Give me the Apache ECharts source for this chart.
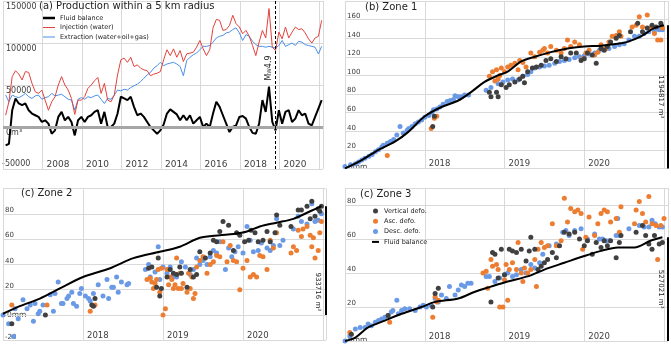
<!DOCTYPE html>
<html>
<head>
<meta charset="utf-8">
<script src="https://cdn.jsdelivr.net/npm/echarts@6/dist/echarts.min.js"></script>
<style>
  html, body { margin: 0; padding: 0; background: #fff; }
  #chart { width: 671px; height: 345px; }
</style>
</head>
<body>
<div id="chart"></div>
<script>
// panel (a): bimonthly values, m3, starting early 2006
const prodStart = 2006.133;
const prodStep = 1 / 6;
const extraction = [
  38000, 30000, 38000, 36000, 35000, 37000, 40000, 36000, 34000, 37000,
  38000, 33000, 35000, 36000, 40000, 37000, 38000, 39000, 36000, 33000,
  32000, 20000, 33000, 35000, 33000, 36000, 35000, 37000, 38000, 33000,
  28000, 34000, 33000, 38000, 44000, 43000, 45000, 44000, 47000, 49000,
  51000, 54000, 58000, 62000, 65000, 70000, 73000, 77000, 73000, 75000,
  76000, 77000, 75000, 72000, 61000, 79000, 83000, 86000, 88000, 92000,
  96000, 96000, 97000, 101000, 106000, 108000, 109000, 112000, 113000, 116000,
  118000, 112000, 103000, 110000, 108000, 102000, 98000, 96000, 96000, 95000,
  96000, 95000, 94000, 97000, 103000, 96000, 98000, 100000, 97000, 102000,
  101000, 98000, 97000, 96000, 95000, 87000, 96000
];
const injection = [
  14000, 30000, 60000, 67000, 63000, 56000, 66000, 65000, 52000, 42000,
  40000, 44000, 32000, 20000, 30000, 36000, 50000, 60000, 50000, 44000,
  34000, 15000, 32000, 32000, 36000, 46000, 50000, 55000, 59000, 40000,
  52000, 32000, 30000, 38000, 62000, 80000, 82000, 77000, 83000, 72000,
  74000, 70000, 68000, 67000, 61000, 63000, 64000, 66000, 80000, 92000,
  85000, 93000, 83000, 91000, 78000, 87000, 88000, 89000, 95000, 103000,
  93000, 85000, 92000, 118000, 128000, 127000, 115000, 116000, 121000, 133000,
  123000, 119000, 111000, 115000, 108000, 97000, 85000, 101000, 115000, 106000,
  141000, 95000, 91000, 113000, 105000, 119000, 106000, 113000, 119000, 116000,
  117000, 112000, 105000, 100000, 106000, 108000, 127000
];
const fluidBalance = [
  -22000, -20000, 20000, 34000, 28000, 26000, 28000, 20000, 16000, 14000,
  12000, 6000, 8000, 4000, -8000, -4000, 12000, 18000, 8000, 12000,
  6000, -10000, 8000, 12000, 6000, 12000, 14000, 18000, 20000, 4000,
  18000, 0, 0, 4000, 16000, 36000, 34000, 32000, 36000, 24000,
  14000, 16000, 12000, 6000, 0, -4000, -8000, -4000, 3000, 16000,
  21000, 18000, 15000, 8000, 14000, 8000, 14000, 4000, 8000, 12000,
  0, 4000, 0, 16000, 30000, 24000, 14000, 4000, -6000, 0,
  2000, 12000, 13000, 10000, 0, -7000, -8000, 4000, 32000, 18000,
  48000, 6000, -4000, 20000, 4000, 18000, 20000, 6000, 10000, 20000,
  14000, 16000, 4000, 2000, 12000, 22000, 32000
];
const quakeYear = 2019.77;

// zones: [decimal year, mm]
const zone1Desc = [
  [2017.00,2],[2017.07,4],[2017.13,5],[2017.17,7],[2017.21,9],[2017.25,11],[2017.30,13],[2017.34,15],
  [2017.38,18],[2017.42,20],[2017.46,23],[2017.48,25],[2017.53,27],[2017.57,29],[2017.61,31],[2017.65,36],
  [2017.69,45],[2017.73,38],[2017.78,41],[2017.80,43],[2017.84,45],[2017.88,48],[2017.92,50],[2017.96,52],
  [2018.00,55],[2018.05,57],[2018.09,60],[2018.11,63],[2018.15,64],[2018.19,66],[2018.23,69],[2018.28,72],
  [2018.32,73],[2018.36,74],[2018.38,78],[2018.42,77],[2018.46,77],[2018.50,79],[2018.55,79],
  [2018.77,84],[2018.83,87],[2018.92,91],[2018.98,93],[2019.04,95],[2019.10,96],[2019.17,95],[2019.23,99],
  [2019.29,101],[2019.33,104],[2019.38,108],[2019.44,109],[2019.50,110],[2019.56,111],[2019.63,113],
  [2019.69,115],[2019.75,116],[2019.81,117],[2019.88,119],[2019.94,120],[2020.00,121],[2020.06,123],
  [2020.13,124],[2020.19,127],[2020.25,128],[2020.31,129],[2020.38,131],[2020.44,133],[2020.50,134],
  [2020.56,138],[2020.63,142],[2020.69,142],[2020.75,145],[2020.81,147],[2020.88,148],[2020.94,149],[2020.98,149]
];
const zone1Asc = [
  [2017.53,14],[2018.08,43],[2018.12,54],[2018.15,56],
  [2018.81,99],[2018.85,104],[2018.88,94],[2018.90,106],[2018.92,96],[2018.94,100],[2018.96,108],[2019.00,104],
  [2019.04,109],[2019.08,111],[2019.13,113],[2019.17,106],[2019.19,116],[2019.23,114],[2019.27,109],
  [2019.33,124],[2019.38,120],[2019.44,125],[2019.48,127],[2019.50,129],[2019.54,124],[2019.58,131],
  [2019.65,127],[2019.71,124],[2019.75,129],[2019.79,138],[2019.83,131],[2019.88,136],[2019.94,133],
  [2019.98,118],[2020.02,124],[2020.06,127],[2020.13,122],[2020.17,125],[2020.21,133],[2020.27,129],
  [2020.31,136],[2020.35,142],[2020.40,143],[2020.44,147],[2020.46,142],[2020.60,152],[2020.65,154],
  [2020.69,163],[2020.73,152],[2020.79,165],[2020.83,151],[2020.88,145],[2020.92,138],[2020.96,138],[2020.98,151]
];
const zone1Vert = [
  [2018.10,45],[2018.12,56],
  [2018.81,82],[2018.83,77],[2018.90,82],[2018.92,77],[2018.96,90],[2019.02,87],[2019.06,90],[2019.13,93],
  [2019.19,96],[2019.23,99],[2019.25,92],[2019.29,104],[2019.35,108],[2019.40,109],[2019.46,111],[2019.52,116],
  [2019.58,118],[2019.65,115],[2019.71,120],[2019.77,118],[2019.83,124],[2019.90,124],[2019.96,116],[2020.00,118],
  [2020.04,124],[2020.10,122],[2020.15,113],[2020.21,129],[2020.25,127],[2020.29,131],[2020.33,136],[2020.40,140],
  [2020.44,143],[2020.58,147],[2020.67,156],[2020.73,147],[2020.79,151],[2020.85,154],[2020.90,152],[2020.96,156]
];
const zone1Fluid = [
  [2017.00,0],[2017.21,9],[2017.42,20],[2017.63,29],[2017.79,39],[2018.00,56],[2018.21,66],[2018.42,73],
  [2018.58,82],[2018.75,93],[2018.92,100],[2019.04,104],[2019.21,115],[2019.38,120],[2019.58,125],[2019.79,129],
  [2020.00,131],[2020.21,132],[2020.42,134],[2020.54,136],[2020.71,142],[2020.88,151],[2021.00,154]
];

const zone2Desc = [
  [2017.00,0],[2017.07,-7],[2017.13,-17],[2017.15,5],[2017.19,-3],[2017.25,12],[2017.30,5],[2017.34,8],
  [2017.38,-5],[2017.40,9],[2017.44,1],[2017.46,3],[2017.50,8],[2017.59,16],[2017.63,3],[2017.65,17],
  [2017.69,26],[2017.73,9],[2017.75,9],[2017.80,13],[2017.82,15],[2017.86,18],[2017.88,9],[2017.92,7],
  [2017.96,17],[2017.98,21],[2018.03,15],[2018.07,13],[2018.09,11],[2018.13,17],[2018.19,24],[2018.25,15],
  [2018.30,28],[2018.32,13],[2018.36,22],[2018.38,22],[2018.42,30],[2018.44,18],[2018.48,26],[2018.55,24],[2018.57,25],
  [2018.78,36],[2018.82,40],[2018.84,30],[2018.90,34],[2018.94,54],[2018.96,28],[2019.00,38],[2019.05,33],
  [2019.09,38],[2019.13,30],[2019.17,30],[2019.23,42],[2019.28,38],[2019.34,32],[2019.38,36],[2019.42,45],
  [2019.46,40],[2019.50,43],[2019.55,40],[2019.59,46],[2019.63,51],[2019.67,49],[2019.71,58],[2019.78,36],
  [2019.82,53],[2019.86,46],[2019.90,50],[2019.94,54],[2020.00,49],[2020.05,70],[2020.09,59],[2020.13,50],
  [2020.19,51],[2020.23,57],[2020.30,53],[2020.34,51],[2020.38,55],[2020.42,76],[2020.46,55],[2020.50,59],
  [2020.63,68],[2020.69,78],[2020.73,74],[2020.80,72],[2020.86,88],[2020.90,74],[2020.94,75],[2020.98,80]
];
const zone2Asc = [
  [2017.11,8],[2017.55,8],[2018.09,3],[2018.15,8],
  [2018.80,28],[2018.84,29],[2018.86,26],[2018.88,21],[2018.90,25],[2018.92,28],[2018.94,36],[2018.96,18],
  [2018.98,37],[2019.00,0],[2019.03,5],[2019.05,36],[2019.07,24],[2019.09,30],[2019.11,28],[2019.13,21],
  [2019.15,24],[2019.17,45],[2019.19,21],[2019.21,33],[2019.23,21],[2019.25,25],[2019.30,18],[2019.32,33],
  [2019.34,21],[2019.36,30],[2019.38,13],[2019.40,17],[2019.42,38],[2019.46,43],[2019.50,46],[2019.55,33],
  [2019.59,40],[2019.63,42],[2019.67,47],[2019.71,46],[2019.75,58],[2019.80,42],[2019.84,55],[2019.88,43],
  [2019.92,42],[2019.96,20],[2020.00,37],[2020.05,43],[2020.09,30],[2020.13,32],[2020.17,30],[2020.21,47],
  [2020.25,46],[2020.30,36],[2020.34,59],[2020.38,53],[2020.42,65],[2020.60,49],[2020.63,54],[2020.67,51],
  [2020.69,67],[2020.73,62],[2020.75,68],[2020.80,70],[2020.84,63],[2020.86,54],[2020.88,61],[2020.90,45],
  [2020.94,51],[2020.96,65],[2020.98,74]
];
const zone2Vert = [
  [2017.11,-7],[2017.53,0],[2018.11,8],[2018.13,7],[2018.15,13],
  [2018.82,37],[2018.86,38],[2018.92,22],[2018.94,45],[2018.96,15],[2018.98,21],[2019.05,30],[2019.09,36],
  [2019.13,33],[2019.17,32],[2019.21,38],[2019.23,33],[2019.30,22],[2019.34,36],[2019.38,30],[2019.42,32],
  [2019.46,50],[2019.53,45],[2019.59,49],[2019.63,59],[2019.67,58],[2019.71,66],[2019.75,74],[2019.82,71],
  [2019.88,51],[2019.92,65],[2019.96,63],[2020.02,58],[2020.07,59],[2020.10,67],[2020.15,65],[2020.19,58],
  [2020.25,59],[2020.30,66],[2020.34,58],[2020.40,65],[2020.42,79],[2020.46,71],[2020.60,70],[2020.69,83],
  [2020.73,83],[2020.80,86],[2020.84,76],[2020.86,90],[2020.90,78],[2020.94,84],[2020.96,82],[2020.98,86]
];
const zone2Fluid = [
  [2017.00,1],[2017.21,7],[2017.46,13],[2017.71,21],[2018.00,30],[2018.34,37],[2018.63,45],[2018.96,50],
  [2019.21,54],[2019.46,61],[2019.71,63],[2019.88,64],[2020.05,66],[2020.21,70],[2020.42,73],[2020.63,76],
  [2020.84,82],[2020.98,86]
];

const zone3Desc = [
  [2017.00,0],[2017.06,3],[2017.13,7],[2017.19,8],[2017.25,8],[2017.29,10],[2017.33,9],[2017.38,11],
  [2017.42,12],[2017.46,13],[2017.50,14],[2017.54,15],[2017.58,17],[2017.60,18],[2017.65,24],[2017.67,16],
  [2017.71,18],[2017.75,19],[2017.81,19],[2017.88,18],[2017.94,20],[2017.98,21],[2018.02,20],[2018.08,21],
  [2018.13,25],[2018.17,23],[2018.21,27],[2018.27,25],[2018.31,32],[2018.38,27],[2018.42,30],[2018.46,33],
  [2018.50,32],[2018.54,34],[2018.58,34],
  [2018.77,38],[2018.81,38],[2018.88,35],[2018.94,37],[2019.00,39],[2019.04,40],[2019.10,38],[2019.15,39],
  [2019.21,42],[2019.27,40],[2019.33,45],[2019.38,43],[2019.44,46],[2019.48,51],[2019.56,56],[2019.65,57],
  [2019.73,64],[2019.77,65],[2019.81,62],[2019.88,65],[2019.96,66],[2020.04,60],[2020.13,63],[2020.19,60],
  [2020.23,60],[2020.27,59],[2020.31,59],[2020.40,62],[2020.42,72],[2020.44,62],[2020.56,66],[2020.69,68],
  [2020.75,67],[2020.81,67],[2020.85,71],[2020.89,69],[2020.94,67],[2020.98,67]
];
const zone3Asc = [
  [2017.06,5],[2017.56,11],[2018.10,14],[2018.13,26],[2018.15,23],[2018.17,24],
  [2018.73,40],[2018.77,41],[2018.79,31],[2018.83,48],[2018.85,44],[2018.90,45],[2018.92,42],[2018.94,20],
  [2018.98,20],[2019.00,36],[2019.02,45],[2019.04,24],[2019.06,42],[2019.10,46],[2019.15,42],[2019.17,58],
  [2019.21,40],[2019.23,35],[2019.25,43],[2019.29,40],[2019.33,42],[2019.38,48],[2019.40,32],[2019.42,54],
  [2019.46,58],[2019.50,55],[2019.54,56],[2019.60,69],[2019.65,56],[2019.71,59],[2019.75,84],[2019.79,70],
  [2019.83,78],[2019.88,76],[2019.92,77],[2019.96,75],[2019.98,54],[2020.02,61],[2020.06,73],[2020.13,62],
  [2020.17,69],[2020.21,75],[2020.25,77],[2020.29,76],[2020.33,70],[2020.40,72],[2020.44,64],[2020.46,79],
  [2020.63,69],[2020.65,77],[2020.69,82],[2020.73,75],[2020.77,70],[2020.81,85],[2020.85,69],[2020.90,68],
  [2020.92,48],[2020.96,68],[2021.00,72]
];
const zone3Vert = [
  [2017.08,4],[2017.54,15],[2018.10,20],[2018.13,28],[2018.17,31],
  [2018.83,23],[2018.85,52],[2018.88,51],[2018.92,37],[2018.96,54],[2019.00,39],[2019.06,54],[2019.10,53],
  [2019.15,52],[2019.21,54],[2019.27,47],[2019.31,53],[2019.33,61],[2019.38,54],[2019.42,42],[2019.46,44],
  [2019.50,46],[2019.54,48],[2019.60,52],[2019.65,49],[2019.69,56],[2019.75,64],[2019.81,63],[2019.88,64],
  [2019.94,60],[2020.00,56],[2020.04,59],[2020.10,51],[2020.15,58],[2020.21,55],[2020.25,59],[2020.29,56],
  [2020.33,59],[2020.40,49],[2020.44,58],[2020.46,62],[2020.65,64],[2020.73,68],[2020.77,62],[2020.81,57],
  [2020.85,54],[2020.88,62],[2020.94,57],[2020.98,58]
];
const zone3Fluid = [
  [2017.00,0],[2017.13,2],[2017.29,8],[2017.50,12],[2017.71,16],[2017.96,20],[2018.13,23],[2018.42,25],
  [2018.63,29],[2018.83,32],[2019.04,35],[2019.29,38],[2019.50,42],[2019.75,46],[2020.00,50],[2020.21,53],
  [2020.42,55],[2020.63,55],[2020.83,59],[2020.98,61]
];
const zoneVolumes = ['1194817', '933716', '527021'];

const GRID_COLOR = '#d9d9d9';
const TEXT_COLOR = '#404040';
const DOT_GRAY = '#404040';
const DOT_ORANGE = '#ED7D31';
const DOT_BLUE = '#6A9AE6';
const RED = '#E2423B';
const BLUE = '#4A8FE7';

// flat bar icons so line legends show no marker
const thickLineIcon = 'path://M0,0 L12,0 L12,2.5 L0,2.5 Z';
const thinLineIcon = 'path://M0,0 L12,0 L12,1 L0,1 Z';
const shortLineIcon = 'path://M0,0 L7,0 L7,2 L0,2 Z';

const toPairs = vals => vals.map((v, i) => [prodStart + i * prodStep, v]);

const splitLine = { show: true, lineStyle: { color: GRID_COLOR, width: 1 } };

// x axis for a zone panel, years 2017-2021
const zoneXAxis = (gridIndex, max) => ({
  type: 'value', gridIndex, min: 2017, max, interval: 1,
  axisLine: { show: false }, axisTick: { show: false }, splitLine,
  axisLabel: {
    inside: true, margin: 0, align: 'left', padding: [0, 0, 0, 4],
    fontSize: 8.5, color: TEXT_COLOR,
    formatter: v => (v > 2017 && v < 2021 && Number.isInteger(v)) ? String(v) : ''
  }
});

const zoneYAxis = (gridIndex, min, max, top) => ({
  type: 'value', gridIndex, min, max, interval: 20,
  axisLine: { show: false }, axisTick: { show: false }, splitLine,
  axisLabel: {
    inside: true, margin: 2, verticalAlign: 'bottom', fontSize: 7, color: TEXT_COLOR,
    formatter: v => (v === 0 || v > top) ? '' : String(v)
  }
});

// scatter + fluid line + volume bar for one zone
function zoneSeries(idx, desc, asc, vert, fluid, barX, volume, labelPos) {
  const dot = (name, data, color) => ({
    name, type: 'scatter', xAxisIndex: idx, yAxisIndex: idx, data,
    symbolSize: 5, itemStyle: { color, opacity: 1 }, z: 3
  });
  const last = fluid[fluid.length - 1][1];
  return [
    dot('Desc. defo.', desc, DOT_BLUE),
    dot('Asc. defo.', asc, DOT_ORANGE),
    dot('Vertical defo.', vert, DOT_GRAY),
    {
      name: 'Fluid balance', type: 'line', xAxisIndex: idx, yAxisIndex: idx,
      data: fluid, symbol: 'none', smooth: 0.3, z: 4,
      itemStyle: { color: '#000' },
      lineStyle: { color: '#000', width: 2 },
      markLine: {
        silent: true, symbol: ['none', 'none'],
        lineStyle: { color: '#000', width: 2, type: 'solid' },
        label: {
          show: true, position: labelPos, distance: 4,
          formatter: volume + ' m³', fontSize: 7, color: '#222'
        },
        data: [[{ coord: [barX, last] }, { coord: [barX, 0] }]]
      }
    }
  ];
}

const chart = echarts.init(document.getElementById('chart'));

const titleStyle = { fontSize: 10, fontWeight: 'normal', color: '#222' };

const option = {
  animation: false,
  textStyle: { fontFamily: 'DejaVu Sans' },
  title: [
    { text: '(a) Production within a 5 km radius', left: 39, top: 1, padding: 0, textStyle: titleStyle },
    { text: '(b) Zone 1', left: 365, top: 2, padding: 0, textStyle: titleStyle },
    { text: '(c) Zone 2', left: 21, top: 188, padding: 0, textStyle: titleStyle },
    { text: '(c) Zone 3', left: 360, top: 189, padding: 0, textStyle: titleStyle }
  ],
  legend: [
    {
      data: [
        { name: 'Fluid balance', icon: thickLineIcon },
        { name: 'Injection (water)', icon: thinLineIcon },
        { name: 'Extraction (water+oil+gas)', icon: thinLineIcon }
      ],
      orient: 'vertical', left: 43, top: 14, padding: 0, itemGap: 1.5,
      itemWidth: 12, itemHeight: 8, selectedMode: false,
      textStyle: { fontSize: 6.5, lineHeight: 8, color: '#222' }
    },
    {
      data: [
        { name: 'Vertical defo.', icon: 'circle' },
        { name: 'Asc. defo.', icon: 'circle' },
        { name: 'Desc. defo.', icon: 'circle' },
        { name: 'Fluid balance', icon: shortLineIcon }
      ],
      orient: 'vertical', left: 372, top: 207, padding: 0, itemGap: 2.3,
      itemWidth: 7, itemHeight: 5, selectedMode: false,
      textStyle: { fontSize: 6.5, lineHeight: 8, color: '#222' }
    }
  ],
  grid: [
    { left: -1, top: 1, width: 324, height: 168 },
    { left: 345, top: 1, width: 324, height: 167.4 },
    { left: 3, top: 188.5, width: 322.8, height: 151.8 },
    { left: 345, top: 188, width: 324, height: 153 }
  ],
  xAxis: [
    {
      type: 'value', gridIndex: 0, min: 2006, max: 2022.2, interval: 2,
      axisLine: { show: false }, axisTick: { show: false }, splitLine,
      axisLabel: {
        inside: true, margin: 0, align: 'left', padding: [0, 0, 0, 4],
        fontSize: 9, color: TEXT_COLOR,
        formatter: v => (v > 2006 && v < 2022 && Number.isInteger(v)) ? String(v) : ''
      }
    },
    zoneXAxis(1, 2021.05),
    zoneXAxis(2, 2021.035),
    zoneXAxis(3, 2021.05)
  ],
  yAxis: [
    {
      type: 'value', gridIndex: 0, min: -50000, max: 150000, interval: 50000,
      axisLine: { show: false }, axisTick: { show: false }, splitLine,
      axisLabel: {
        inside: true, margin: 3, verticalAlign: 'top', fontSize: 8, color: TEXT_COLOR,
        padding: [2, 0, 0, 0], showMinLabel: false,
        formatter: v => v === 0 ? '0m³' : String(v)
      }
    },
    zoneYAxis(1, 0, 180, 160),
    zoneYAxis(2, -20, 100, 80),
    zoneYAxis(3, 0, 90, 80)
  ],
  graphic: [
    { type: 'text', left: 2, top: 160, style: { text: '-50000', fontSize: 8, fill: TEXT_COLOR, fontFamily: 'DejaVu Sans' } },
    { type: 'text', left: 348, top: 163.5, style: { text: '0mm', fontSize: 7.5, fill: TEXT_COLOR, fontFamily: 'DejaVu Sans' } },
    { type: 'text', left: 7, top: 311, style: { text: '0mm', fontSize: 7.5, fill: TEXT_COLOR, fontFamily: 'DejaVu Sans' } },
    { type: 'text', left: 348, top: 336.5, style: { text: '0mm', fontSize: 7.5, fill: TEXT_COLOR, fontFamily: 'DejaVu Sans' } }
  ],
  series: [
    {
      name: 'Extraction (water+oil+gas)', type: 'line', xAxisIndex: 0, yAxisIndex: 0,
      data: toPairs(extraction), symbol: 'none', z: 2,
      itemStyle: { color: BLUE },
      lineStyle: { color: BLUE, width: 1 },
      markLine: {
        silent: true, symbol: ['none', 'none'], label: { show: false },
        lineStyle: { color: '#a6a6a6', width: 3, type: 'solid' },
        data: [{ yAxis: 0 }]
      }
    },
    {
      name: 'Injection (water)', type: 'line', xAxisIndex: 0, yAxisIndex: 0,
      data: toPairs(injection), symbol: 'none', z: 2,
      itemStyle: { color: RED },
      lineStyle: { color: RED, width: 1 }
    },
    {
      name: 'Fluid balance', type: 'line', xAxisIndex: 0, yAxisIndex: 0,
      data: toPairs(fluidBalance), symbol: 'none', z: 3,
      itemStyle: { color: '#000' },
      lineStyle: { color: '#000', width: 2 },
      markLine: {
        silent: true, symbol: ['none', 'none'],
        lineStyle: { color: '#000', width: 1, type: [3, 2] },
        label: {
          show: true, position: 'insideMiddleTop', distance: 2,
          formatter: 'M{s|W}4.9', fontSize: 8, color: '#222', padding: [0, 0, 0, 34],
          rich: { s: { fontSize: 5.5, verticalAlign: 'bottom', padding: [3, 0, 0, 0] } }
        },
        data: [{ xAxis: quakeYear }]
      }
    },
    ...zoneSeries(1, zone1Desc, zone1Asc, zone1Vert, zone1Fluid, 2021.05, zoneVolumes[0], 'insideMiddleBottom'),
    ...zoneSeries(2, zone2Desc, zone2Asc, zone2Vert, zone2Fluid, 2021.035, zoneVolumes[1], 'insideEndBottom'),
    ...zoneSeries(3, zone3Desc, zone3Asc, zone3Vert, zone3Fluid, 2021.05, zoneVolumes[2], 'insideMiddleBottom')
  ]
};

chart.setOption(option);
</script>
</body>
</html>
